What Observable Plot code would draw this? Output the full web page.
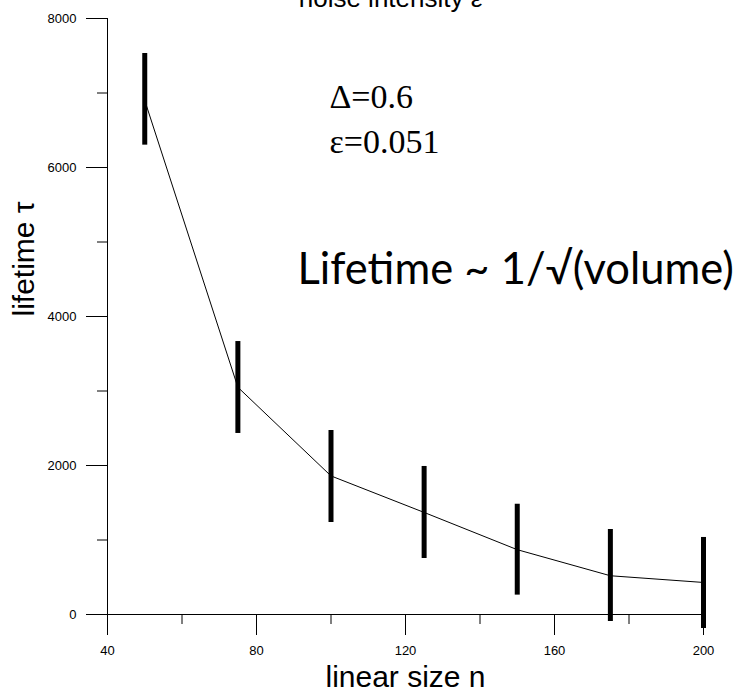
<!DOCTYPE html>
<html>
<head>
<meta charset="utf-8">
<script src="https://cdn.jsdelivr.net/npm/d3@7"></script>
<script src="https://cdn.jsdelivr.net/npm/@observablehq/plot@0.6"></script>
<style>
  html, body { margin: 0; padding: 0; background: #fff; }
  #chart svg { display: block; }
</style>
</head>
<body>
<div id="chart"></div>
<script>
// Linear size n (x) and lifetime τ (y) with error-bar bounds
const sizes = [50, 75, 100, 125, 150, 175, 200];
const lifetime = [6900, 3050, 1860, 1370, 870, 520, 430];
const lifetimeLow = [6300, 2430, 1235, 752, 260, -94, -188];
const lifetimeHigh = [7530, 3664, 2470, 1987, 1480, 1141, 1034];

// Tick values
const xMajorTicks = [40, 80, 120, 160, 200];
const xMinorTicks = [60, 100, 140, 180];
const yMajorTicks = [0, 2000, 4000, 6000, 8000];
const yMinorTicks = [1000, 3000, 5000, 7000];

// Texts
const titleText = "noise intensity ε";
const xLabel = "linear size n";
const yLabel = "lifetime τ";
const paramLines = ["Δ=0.6", "ε=0.051"];
const lawText = "Lifetime ~ 1/√(volume)";

const data = sizes.map((n, i) => ({n, tau: lifetime[i], lo: lifetimeLow[i], hi: lifetimeHigh[i]}));

const chart = Plot.plot({
  width: 746,
  height: 692,
  marginLeft: 107,
  marginRight: 43,
  marginTop: 18,
  marginBottom: 78,
  style: {fontFamily: "Liberation Sans, Arial, sans-serif", fontSize: "13px", background: "#fff", color: "#000"},
  x: {domain: [40, 200]},
  y: {domain: [0, 8000]},
  marks: [
    Plot.axisX({ticks: xMajorTicks, tickSize: 21, tickPadding: 10, tickFormat: d3.format("d"), label: null, fontSize: 13}),
    Plot.axisX({ticks: xMinorTicks, tickSize: 10, tickFormat: () => "", label: null}),
    Plot.axisY({ticks: yMajorTicks, tickSize: 21, tickPadding: 10, tickFormat: d3.format("d"), label: null, fontSize: 13}),
    Plot.axisY({ticks: yMinorTicks, tickSize: 10, tickFormat: () => "", label: null}),
    Plot.ruleY([0], {stroke: "#000", strokeWidth: 1}),
    Plot.ruleX([40], {stroke: "#000", strokeWidth: 1}),
    Plot.line(data, {x: "n", y: "tau", stroke: "#000", strokeWidth: 1}),
    Plot.ruleX(data, {x: "n", y1: "lo", y2: "hi", stroke: "#000", strokeWidth: 5}),
    Plot.text([xLabel], {frameAnchor: "bottom", text: d => d, dy: 72, lineAnchor: "bottom", fontSize: 30, fontFamily: "Liberation Sans"}),
    Plot.text([yLabel], {frameAnchor: "left", text: d => d, dx: -83, rotate: -90, lineAnchor: "middle", fontSize: 30, fontFamily: "Liberation Sans"}),
    Plot.text([titleText], {frameAnchor: "top", text: d => d, dx: -15, dy: -12, lineAnchor: "bottom", fontSize: 26, fontFamily: "Liberation Sans"}),
    Plot.text([paramLines[0]], {frameAnchor: "top-left", text: d => d, dx: 222, dy: 89, lineAnchor: "bottom", textAnchor: "start", fontSize: 34, fontFamily: "Liberation Serif"}),
    Plot.text([paramLines[1]], {frameAnchor: "top-left", text: d => d, dx: 222, dy: 134, lineAnchor: "bottom", textAnchor: "start", fontSize: 34, fontFamily: "Liberation Serif"}),
    Plot.text([lawText], {frameAnchor: "top-left", text: d => d, dx: 190, dy: 265, lineAnchor: "bottom", textAnchor: "start", fontSize: 43.5, fontFamily: "Lato"})
  ]
});
document.getElementById("chart").appendChild(chart);
</script>
</body>
</html>
